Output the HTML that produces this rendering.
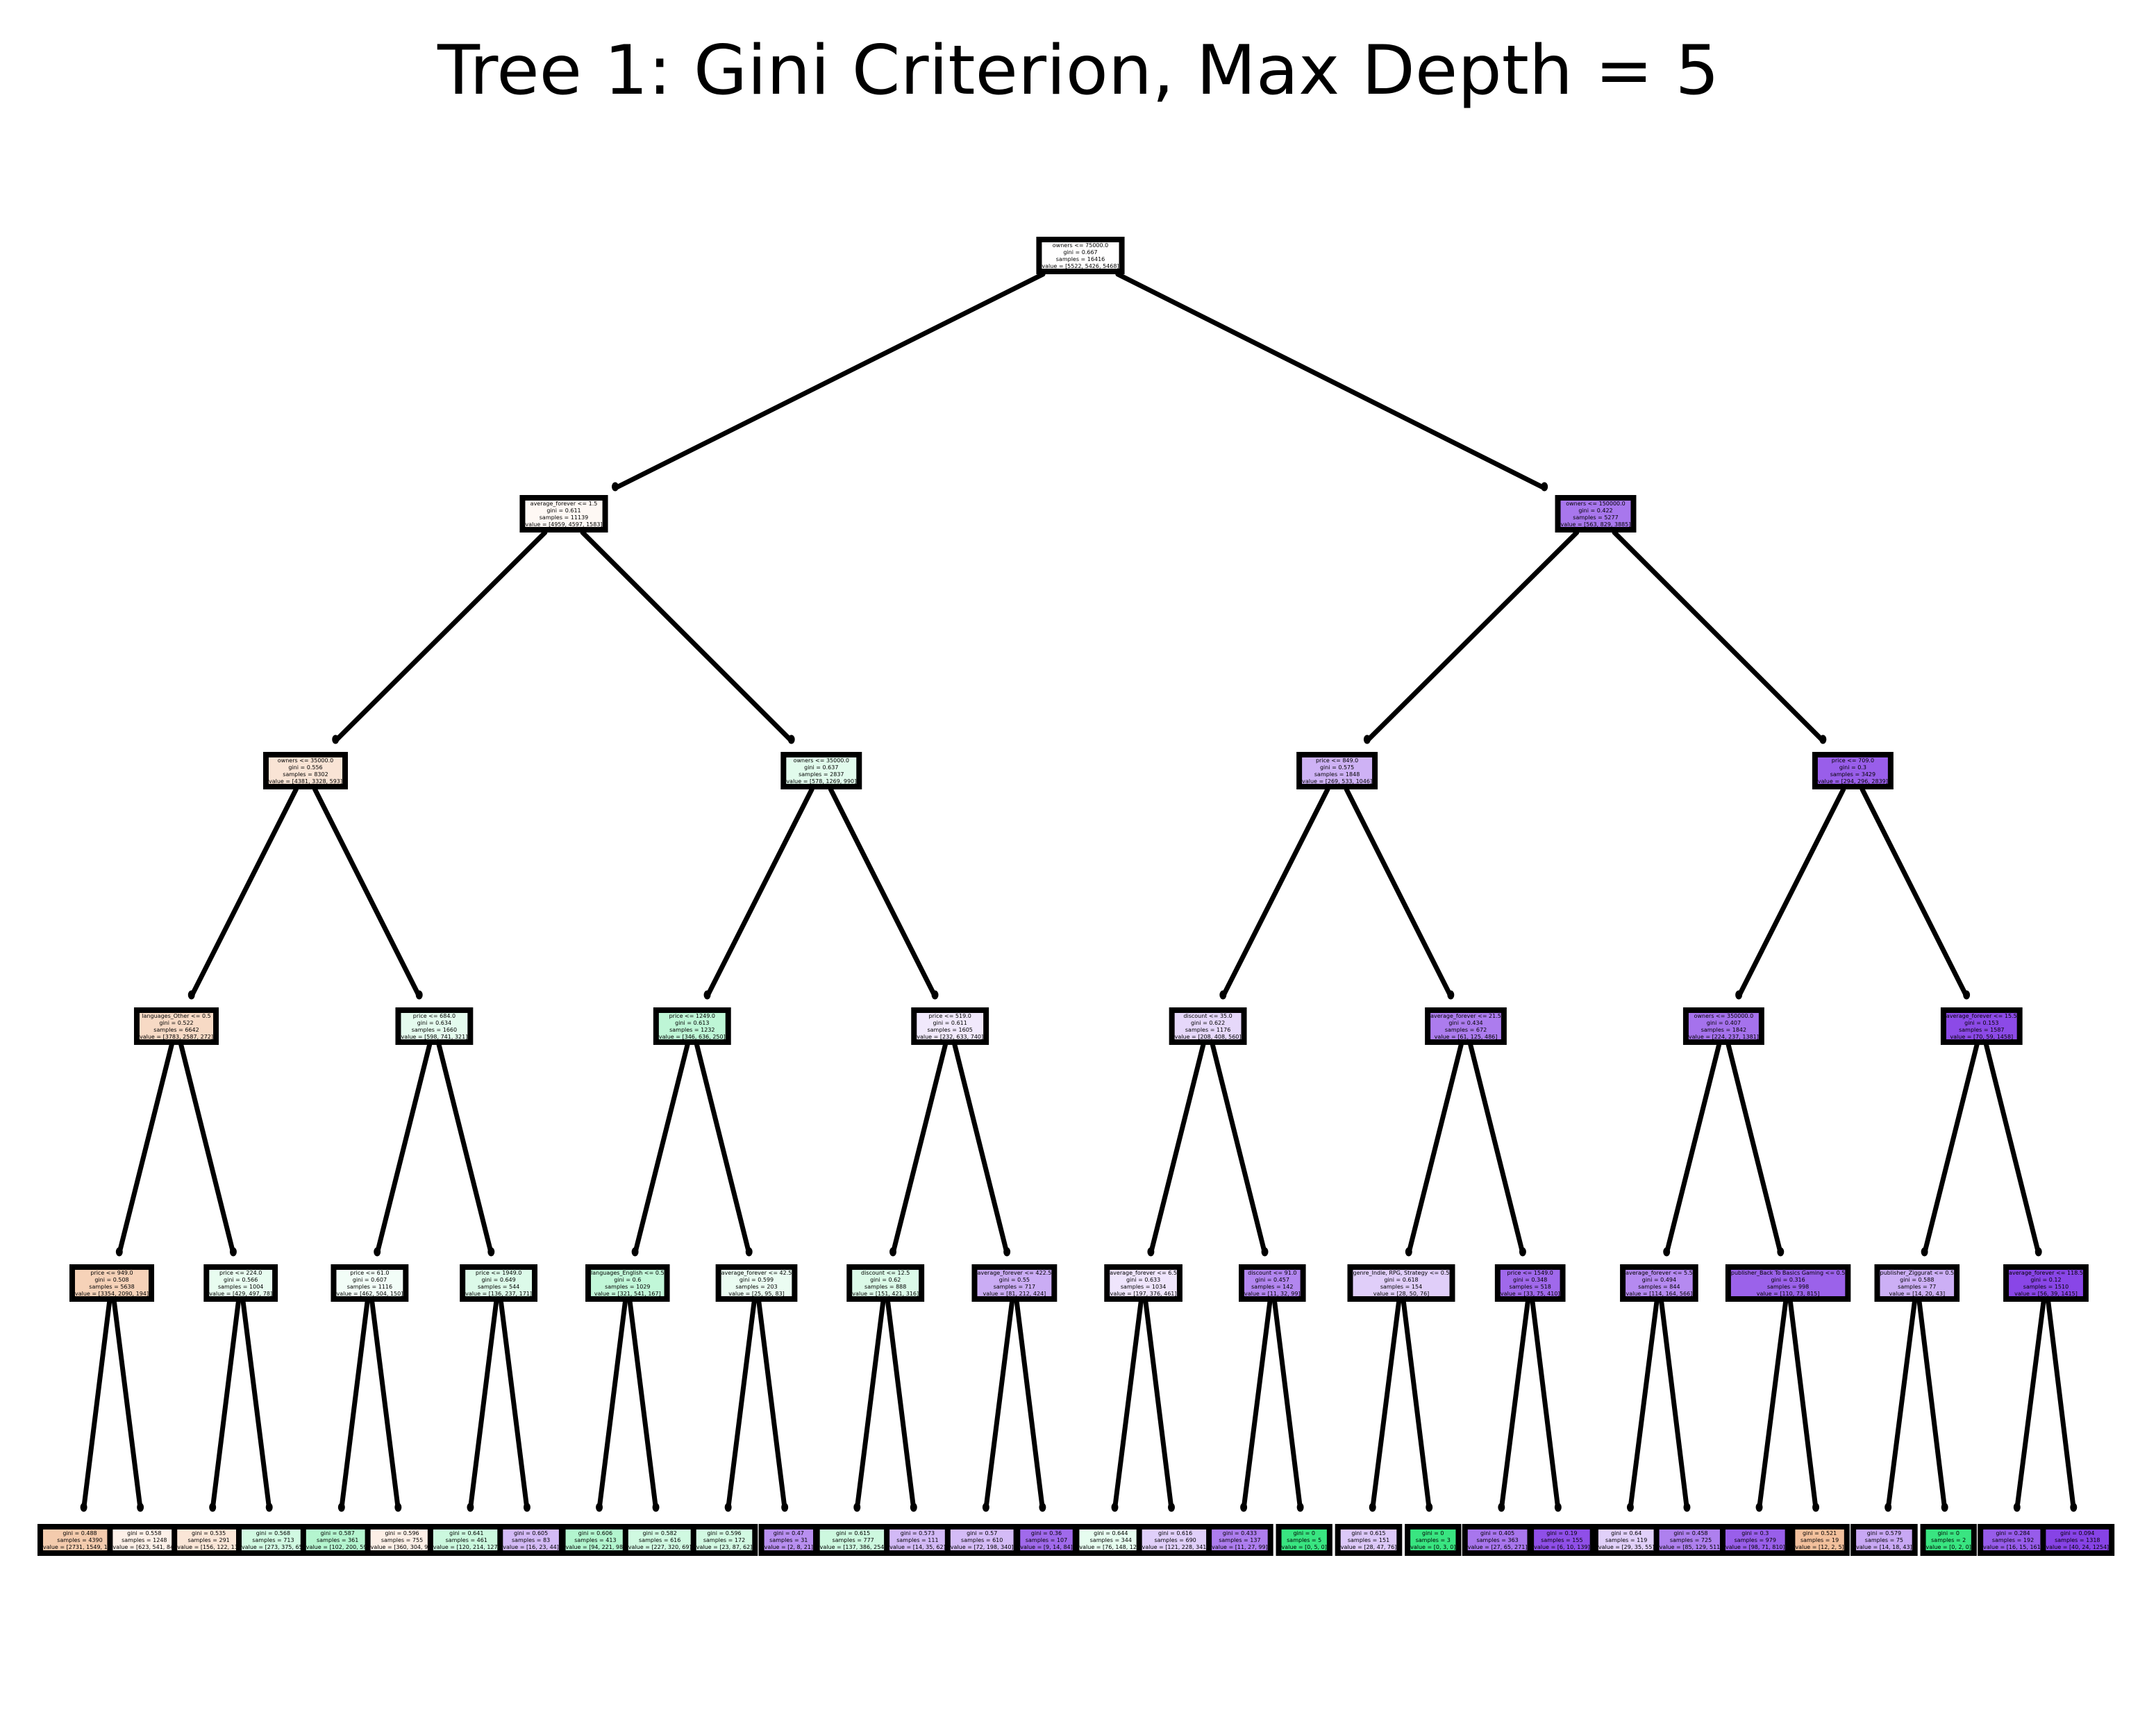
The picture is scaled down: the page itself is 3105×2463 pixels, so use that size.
<!DOCTYPE html>
<html><head><meta charset="utf-8"><style>
html,body{margin:0;padding:0;background:#fff;}
svg{display:block;}
text{font-family:"DejaVu Sans","Liberation Sans",sans-serif;}
</style></head><body>
<svg id="s" width="3105" height="2463" viewBox="0 0 3105 2463" xmlns="http://www.w3.org/2000/svg">
<rect width="3105" height="2463" fill="#fff"/>
<text x="1553" y="135" font-size="98" text-anchor="middle" textLength="1846" lengthAdjust="spacingAndGlyphs" fill="#000">Tree 1: Gini Criterion, Max Depth = 5</text>
<g id="edges"></g><g id="nodes"></g>
</svg>
<script>
const L=[
 ["owners <= 75000.0",[5522,5426,5468]],
 ["average_forever <= 1.5",[4959,4597,1583]],["owners <= 150000.0",[563,829,3885]],
 ["owners <= 35000.0",[4381,3328,593]],["owners <= 35000.0",[578,1269,990]],["price <= 849.0",[269,533,1046]],["price <= 709.0",[294,296,2839]],
 ["languages_Other <= 0.5",[3783,2587,272]],["price <= 684.0",[598,741,321]],["price <= 1249.0",[346,636,250]],["price <= 519.0",[232,633,740]],["discount <= 35.0",[208,408,560]],["average_forever <= 21.5",[61,125,486]],["owners <= 350000.0",[224,237,1381]],["average_forever <= 15.5",[70,59,1458]],
 ["price <= 949.0",[3354,2090,194]],["price <= 224.0",[429,497,78]],["price <= 61.0",[462,504,150]],["price <= 1949.0",[136,237,171]],["languages_English <= 0.5",[321,541,167]],["average_forever <= 42.5",[25,95,83]],["discount <= 12.5",[151,421,316]],["average_forever <= 422.5",[81,212,424]],["average_forever <= 6.5",[197,376,461]],["discount <= 91.0",[11,32,99]],["genre_Indie, RPG, Strategy <= 0.5",[28,50,76]],["price <= 1549.0",[33,75,410]],["average_forever <= 5.5",[114,164,566]],["publisher_Back To Basics Gaming <= 0.5",[110,73,815]],["publisher_Ziggurat <= 0.5",[14,20,43]],["average_forever <= 118.5",[56,39,1415]]
];
const leaves=[[2731,1549,110],[623,541,84],[156,122,13],[273,375,65],[102,200,59],[360,304,91],[120,214,127],[16,23,44],[94,221,98],[227,320,69],[23,87,62],[2,8,21],[137,386,254],[14,35,62],[72,198,340],[9,14,84],[76,148,120],[121,228,341],[11,27,99],[0,5,0],[28,47,76],[0,3,0],[27,65,271],[6,10,139],[29,35,55],[85,129,511],[98,71,810],[12,2,5],[14,18,43],[0,2,0],[16,15,161],[40,24,1254]];
const cols=[[229,129,57],[57,229,129],[129,57,229]];
function color(v){const s=v[0]+v[1]+v[2];const p=v.map(x=>x/s);let idx=[0,1,2].sort((a,b)=>p[b]-p[a]);let a=p[idx[1]]===1?0:(p[idx[0]]-p[idx[1]])/(1-p[idx[1]]);const c=cols[idx[0]].map(x=>Math.round(a*x+(1-a)*255));return `rgb(${c})`;}
function gini(v){const s=v[0]+v[1]+v[2];let g=1;v.forEach(x=>g-=(x/s)*(x/s));return parseFloat(g.toFixed(3));}
const NS="http://www.w3.org/2000/svg";
const E=document.getElementById("edges"),N=document.getElementById("nodes");
const ys=[368,740,1110,1478,1848,2218];
function cx(d,i){if(d===0)return 1556;const sp=[0,1486,742.8,371.4,185.7,92.8][d];const x0=[0,812,440,254,161,115][d];return x0+sp*i;}
const nodes=[];
let k=0;
for(let d=0;d<5;d++){for(let i=0;i<(1<<d);i++){const [lab,v]=L[k++];nodes.push({d,i,x:cx(d,i),y:ys[d],lines:[lab,"gini = "+gini(v),"samples = "+(v[0]+v[1]+v[2]),"value = ["+v.join(", ")+"]"],fill:color(v),h:54});}}
leaves.forEach((v,i)=>nodes.push({d:5,i,x:cx(5,i),y:ys[5],lines:["gini = "+gini(v),"samples = "+(v[0]+v[1]+v[2]),"value = ["+v.join(", ")+"]"],fill:color(v),h:46}));
const FS=8,LH=10;
function mk(t,a,p){const e=document.createElementNS(NS,t);for(const q in a)e.setAttribute(q,a[q]);(p||N).appendChild(e);return e;}
const tmp=mk("text",{"font-size":FS,x:0,y:-100});
nodes.forEach(n=>{let w=0;n.lines.forEach(l=>{tmp.textContent=l;w=Math.max(w,tmp.getComputedTextLength());});n.w=Math.max(w+16,60);});
tmp.remove();
function find(d,i){return nodes.find(n=>n.d===d&&n.i===i);}
nodes.forEach(c=>{if(c.d===0)return;const p=find(c.d-1,c.i>>1);const y1=p.y+p.h/2, y2=c.y-c.h/2-(c.d===5?22:(c.d===1?10:16));const t1=(y1-p.y)/(c.y-p.y),t2=(y2-p.y)/(c.y-p.y);const x1=p.x+(c.x-p.x)*t1,x2=p.x+(c.x-p.x)*t2;mk("line",{x1,y1,x2,y2,stroke:"#000","stroke-width":7,"stroke-linecap":"round"},E);mk("ellipse",{cx:x2,cy:y2-2,rx:5,ry:6.5,fill:"#000"},E);});
nodes.forEach(n=>{const sw=8;mk("rect",{x:n.x-n.w/2+sw/2,y:n.y-n.h/2+sw/2,width:n.w-sw,height:n.h-sw,fill:n.fill,stroke:"#000","stroke-width":sw});const nl=n.lines.length;const y0=n.y-(nl-1)*LH/2+FS*0.36;n.lines.forEach((l,j)=>{const t=mk("text",{x:n.x,y:y0+j*LH,"font-size":FS,"text-anchor":"middle",fill:"#000"});t.textContent=l;});});
</script>
</body></html>
